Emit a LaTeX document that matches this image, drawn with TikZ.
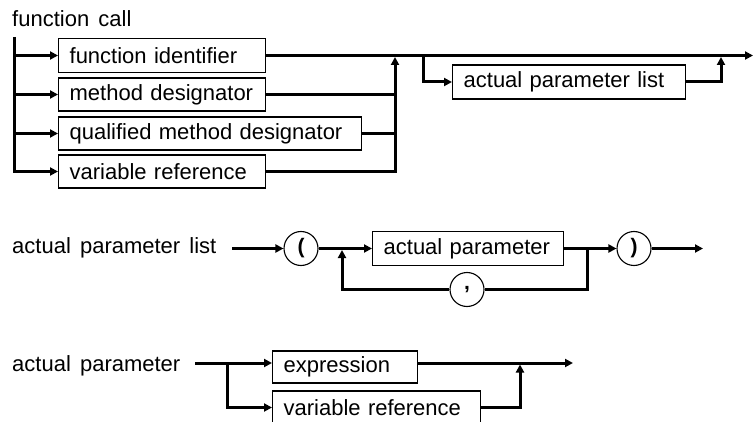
\documentclass[tikz,border=0pt]{standalone}
\usepackage{fontspec}
\setmainfont{Liberation Sans}[WordSpace=1.5]
\usetikzlibrary{arrows.meta}
\begin{document}
\begin{tikzpicture}[x=1pt,y=-1pt,
  conn/.style={line width=3pt},
  arr/.style={-{Triangle[length=8pt,width=8pt]}},
  box/.style={draw,line width=1.3pt,anchor=west,inner xsep=11pt,inner ysep=0pt,align=left,
    font=\fontsize{22}{26}\selectfont},
  term/.style={draw,circle,line width=1.1pt,minimum size=34pt,inner sep=0pt,
    font=\fontsize{21}{25}\selectfont\bfseries},
  lbl/.style={anchor=base west,inner sep=0pt,font=\fontsize{22}{26}\selectfont}]
\useasboundingbox (0,0) rectangle (755,422);
\clip (0,0) rectangle (755,422);

% ---------- function call ----------
\node[lbl] (t1) at (12,27) {function call};
\node[box,text width=185pt,minimum height=34pt] (fi) at (58,55.5) {\mbox{function identifier}};
\node[box,text width=185pt,minimum height=33pt] (md) at (58,94.5) {\mbox{method designator}};
\node[box,text width=281pt,minimum height=33pt] (qmd) at (58,133.5) {\mbox{qualified method designator}};
\node[box,text width=185pt,minimum height=33pt] (vr) at (58,171.5) {\mbox{variable reference}};
\node[box,text width=211pt,minimum height=34pt] (apl) at (452,82) {\mbox{actual parameter list}};

\coordinate (s1) at (14,37);
\coordinate (j1) at (395,55.5);
\coordinate (b1) at (423,55.5);
\coordinate (j2) at (721,55.5);
\coordinate (e1) at (753,55.5);

\draw[conn,arr] (s1) |- (vr.west);
\draw[conn,arr] (s1 |- fi.west) -- (fi.west);
\draw[conn,arr] (s1 |- md.west) -- (md.west);
\draw[conn,arr] (s1 |- qmd.west) -- (qmd.west);

\draw[conn,arr] (fi.east) -- (e1);
\draw[conn] (md.east) -- (md.east -| j1);
\draw[conn] (qmd.east) -- (qmd.east -| j1);
\draw[conn,arr,shorten >=1.5pt] (vr.east) -| (j1);
\draw[conn,arr] (b1) |- (apl.west);
\draw[conn,arr,shorten >=1.5pt] (apl.east) -| (j2);

% ---------- actual parameter list ----------
\node[lbl] (t2) at (12,254) {actual parameter list};
\coordinate (c2) at (232,248.5);
\node[term] (lp) at (301,248.5) {(};
\node[box,text width=169pt,minimum height=34pt] (ap) at (372,248.5) {\mbox{actual parameter}};
\node[term] (rp) at (634,248.5) {)};
\node[term] (cm) at (467,289.5) {,};
\coordinate (j3) at (342,248.5);
\coordinate (j4) at (587,248.5);
\coordinate (e2) at (703,248.5);

\draw[conn,arr] (c2) -- (lp);
\draw[conn,arr] (lp) -- (ap);
\draw[conn,arr] (ap) -- (rp);
\draw[conn,arr] (rp) -- (e2);
\draw[conn] (j4) |- (cm);
\draw[conn,arr,shorten >=1.5pt] (cm) -| (j3);

% ---------- actual parameter ----------
\node[lbl] (t3) at (12,371) {actual parameter};
\coordinate (c3) at (195,363);
\coordinate (j5) at (227,363);
\node[box,text width=123pt,minimum height=32pt] (ex) at (272,367) {\mbox{expression}};
\node[box,text width=186pt,minimum height=33pt] (vr2) at (272,407.5) {\mbox{variable reference}};
\coordinate (j6) at (520,363);
\coordinate (e3) at (573,363);

\draw[conn,arr] (c3) -- (c3 -| ex.west);
\draw[conn,arr] (j5) |- (vr2.west);
\draw[conn,arr] (ex.east |- c3) -- (e3);
\draw[conn,arr,shorten >=1.5pt] (vr2.east) -| (j6);
\end{tikzpicture}
\end{document}
